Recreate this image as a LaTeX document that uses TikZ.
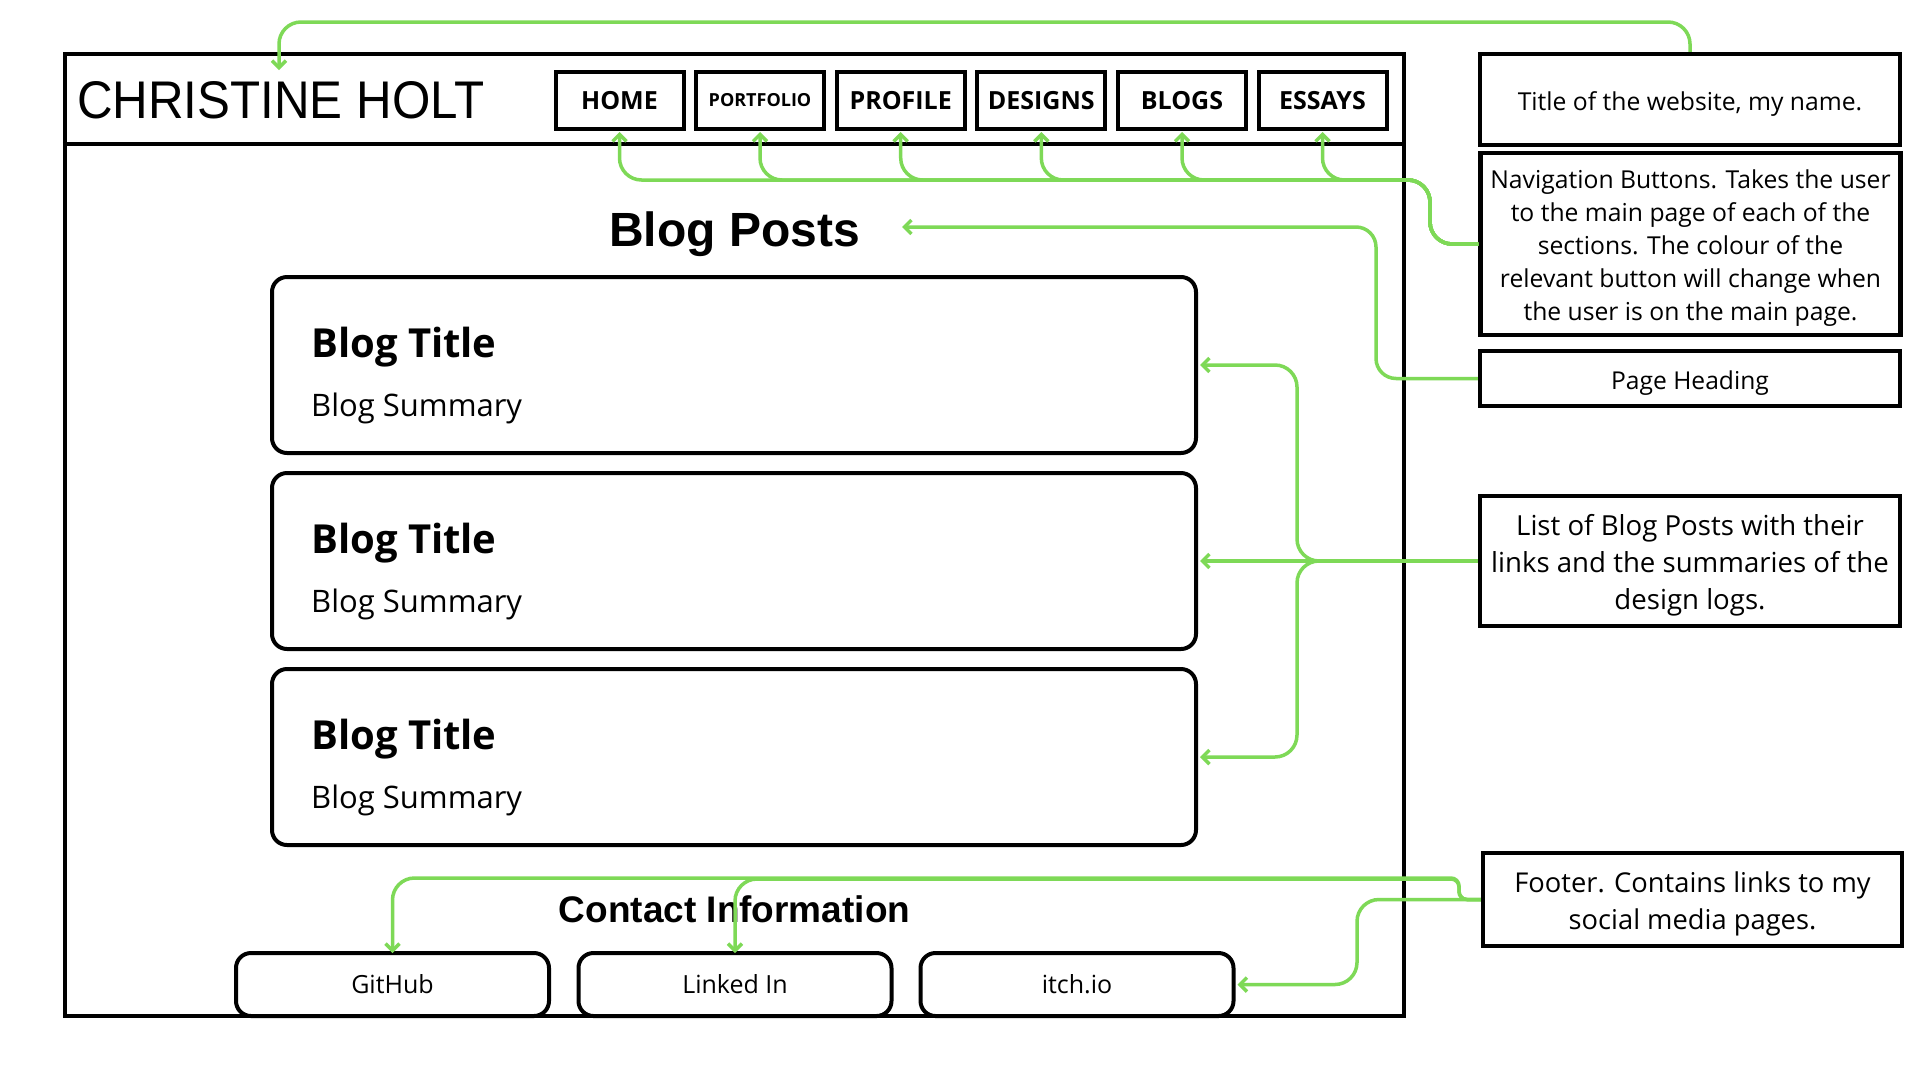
\documentclass[tikz,border=0pt]{standalone}
\usepackage{fontspec}
\usepackage{graphicx}
\setmainfont{Open Sans}
\newfontfamily\arialf{Liberation Sans}
\usetikzlibrary{arrows.meta}
\definecolor{cgreen}{RGB}{126,217,87}
\begin{document}
\begin{tikzpicture}[x=1pt,y=-1pt,
  frame/.style={draw=black,line width=4.5pt,inner sep=0pt},
  navbtn/.style={draw,line width=4pt,minimum width=128pt,minimum height=57pt,inner sep=0pt,font=\fontsize{25}{30}\selectfont\bfseries},
  desc/.style={draw,line width=4.5pt,minimum width=420pt,inner sep=0pt},
  desctext/.style={inner sep=0pt,align=center,yshift=-4.5pt},
  blogbox/.style={draw,line width=4pt,rounded corners=15pt,minimum width=924pt,minimum height=176pt,inner sep=0pt},
  linkbtn/.style={draw,line width=4pt,rounded corners=15pt,minimum width=313pt,minimum height=63pt,inner sep=0pt,font=\fontsize{25}{30}\selectfont},
  btitle/.style={anchor=base west,inner sep=0pt,font=\fontsize{40}{46}\selectfont\bfseries},
  bsum/.style={anchor=base west,inner sep=0pt,font=\fontsize{31}{36}\selectfont},
  conn/.style={draw=cgreen,line width=3.5pt,rounded corners=22pt,-{Straight Barb[length=7pt,width=14pt]}},
]
\fill[white] (0,0) rectangle (1920,1080);
\useasboundingbox (0,0) rectangle (1920,1080);

% page frame
\node[frame,minimum width=1339pt,minimum height=962pt] (page) at (734.5,535) {};
\draw[line width=4.5pt] (page.west |- 0,144) -- (page.east |- 0,144);

\node[anchor=base west,inner sep=0pt,font=\arialf\fontsize{53}{60}\selectfont] (title) at (77,118) {\scalebox{0.93}[1]{CHRISTINE HOLT}};

% nav buttons
\node[navbtn] (home) at (619.5,100.5) {HOME};
\node[navbtn,font=\fontsize{18}{20}\selectfont\bfseries] (portfolio) at (760,100.5) {PORTFOLIO};
\node[navbtn] (profile) at (900.7,100.5) {PROFILE};
\node[navbtn] (designs) at (1041.3,100.5) {DESIGNS};
\node[navbtn] (blogs) at (1182,100.5) {BLOGS};
\node[navbtn] (essays) at (1322.5,100.5) {ESSAYS};

% heading
\node[anchor=base,inner sep=0pt,font=\arialf\bfseries\fontsize{48}{56}\selectfont] (heading) at (734.5,246) {Blog Posts};

% blog boxes
\node[blogbox] (b1) at (734,365) {};
\node[blogbox] (b2) at (734,561) {};
\node[blogbox] (b3) at (734,757) {};
\node[btitle] (t1) at (311,357) {Blog Title};
\node[bsum] (s1) at (311,416) {Blog Summary};
\node[btitle] (t2) at (311,553) {Blog Title};
\node[bsum] (s2) at (311,612) {Blog Summary};
\node[btitle] (t3) at (311,749) {Blog Title};
\node[bsum] (s3) at (311,808) {Blog Summary};

% contact
\node[anchor=base,inner sep=0pt,font=\arialf\bfseries\fontsize{37}{44}\selectfont] (contact) at (734.5,922) {Contact Information};
\node[linkbtn] (github) at (392.5,984.5) {GitHub};
\node[linkbtn] (linkedin) at (735,984.5) {Linked In};
\node[linkbtn] (itch) at (1077,984.5) {itch.io};

% description boxes
\node[desc,minimum height=91pt] (dtitle) at (1690,99.5) {};
\node[desctext,font=\fontsize{24.7}{33}\selectfont] (dtitle-t) at (dtitle.center) {Title of the website, my name.};
\node[desc,minimum height=182pt] (dnav) at (1690.5,244) {};
\node[desctext,font=\fontsize{24.7}{33}\selectfont] (dnav-t) at (dnav.center) {Navigation Buttons. Takes the user\\to the main page of each of the\\sections. The colour of the\\relevant button will change when\\the user is on the main page.};
\node[desc,minimum height=55pt] (dhead) at (1690,378.5) {};
\node[desctext,font=\fontsize{24.6}{30}\selectfont] (dhead-t) at (dhead.center) {Page Heading};
\node[desc,minimum height=130pt] (dlist) at (1690,561) {};
\node[desctext,font=\fontsize{27.6}{37}\selectfont] (dlist-t) at (dlist.center) {List of Blog Posts with their\\links and the summaries of the\\design logs.};
\node[desc,minimum width=419pt,minimum height=93pt] (dfoot) at (1692.5,899.5) {};
\node[desctext,font=\fontsize{27.3}{37}\selectfont] (dfoot-t) at (dfoot.center) {Footer. Contains links to my\\social media pages.};

% free-end coordinates
\coordinate (titletip) at (279,70);
\coordinate (headtip) at (902,227);

% connectors
\draw[conn] (dtitle.north) -- (1690,22) -- (279,22) -- (titletip);
\foreach \b in {home,portfolio,profile,designs,blogs,essays}{
  \draw[conn,shorten >=-1pt] (dnav.west) -- (1430,244) -- (1430,180) -- (\b.south |- 0,180) -- ([yshift=-2pt]\b.south);
}
\draw[conn,rounded corners=20pt] (dhead.west) -- (1376,378.5) -- (1376,227) -- (headtip);
\draw[conn] (dlist.west) -- ([xshift=2pt]b2.east);
\draw[conn] (dlist.west) -- (1297,561) -- (1297,365) -- ([xshift=2pt]b1.east);
\draw[conn] (dlist.west) -- (1297,561) -- (1297,757) -- ([xshift=2pt]b3.east);
\draw[conn,rounded corners=8pt] (dfoot.west) -- (1459,899.5) -- (1459,878) [rounded corners=22pt] -- (392.5,878) -- ([yshift=-2pt]github.north);
\draw[conn,rounded corners=8pt] (dfoot.west) -- (1459,899.5) -- (1459,879) [rounded corners=22pt] -- (735,879) -- ([yshift=-2pt]linkedin.north);
\draw[conn] (dfoot.west) -- (1357,899.5) -- (1357,984.5) -- ([xshift=2pt]itch.east);
\end{tikzpicture}
\end{document}
